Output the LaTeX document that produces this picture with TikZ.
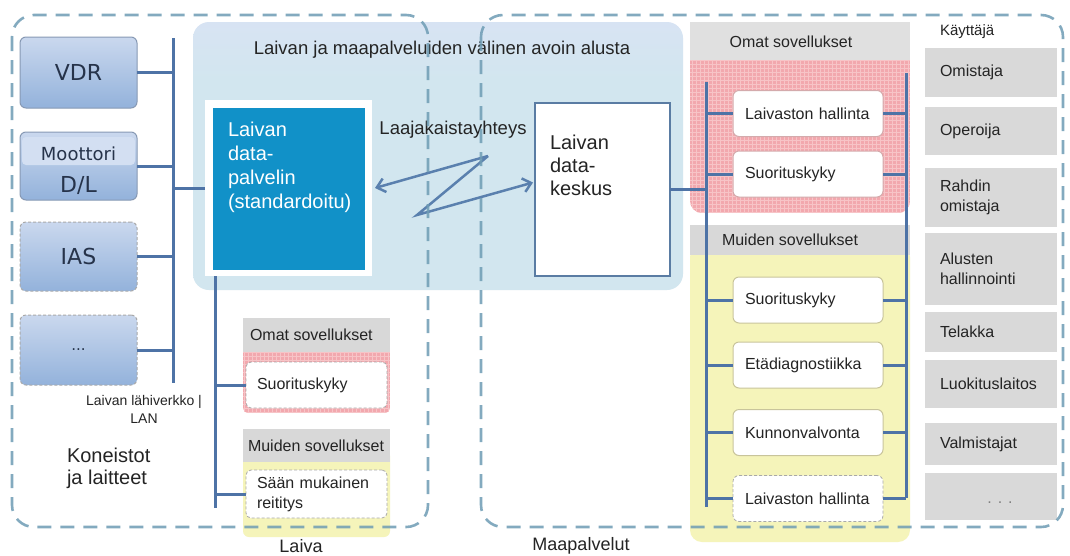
\documentclass[tikz,border=0pt]{standalone}
\usepackage{fontspec}
\setmainfont{Liberation Sans}
\newfontfamily\dvsans{DejaVu Sans}
\usetikzlibrary{arrows.meta}

\definecolor{dashc}{HTML}{6E9CB4}
\definecolor{platc}{HTML}{D2E6EF}
\definecolor{platt}{HTML}{DAE2F5}
\definecolor{srvc}{HTML}{1191C8}
\definecolor{busc}{HTML}{4E73A6}
\definecolor{zigc}{HTML}{5A80AE}
\definecolor{dcline}{HTML}{5A7CA3}
\definecolor{devtop}{HTML}{CAD8EE}
\definecolor{devbot}{HTML}{93B2DB}
\definecolor{devlite}{HTML}{D3DFF2}
\definecolor{devline}{HTML}{8799B4}
\definecolor{hdrc}{HTML}{D8D8D8}
\definecolor{usrc}{HTML}{D9D9D9}
\definecolor{pinkc}{HTML}{F2A8AE}
\definecolor{pinkg}{HTML}{F7C4C7}
\definecolor{yelc}{HTML}{F5F4BA}
\definecolor{txtc}{HTML}{242424}
\definecolor{devtxt}{HTML}{26334A}
\definecolor{appP}{HTML}{D4AAAC}
\definecolor{appY}{HTML}{C8C49B}
\definecolor{appD}{HTML}{A9A9A9}

\pgfdeclareverticalshading{platshade}{100bp}{color(0bp)=(platc); color(64bp)=(platc); color(80bp)=(platt); color(100bp)=(platt)}

\tikzset{
  every node/.style={inner sep=0pt, outer sep=0pt, text=txtc},
  zone/.style={draw=dashc, line width=2.6pt, dash pattern=on 14pt off 9pt,
    rounded corners=22pt, draw opacity=0.85},
  platbox/.style={rounded corners=16pt, shade, shading=platshade},
  dev/.style={draw=devline, line width=1pt, rounded corners=6pt,
    top color=devtop, bottom color=devbot, minimum width=117pt,
    text=devtxt, font=\dvsans\fontsize{22}{26}\selectfont},
  devdash/.style={dev, draw=appD, dash pattern=on 3pt off 2pt},
  bus/.style={draw=busc, line width=3pt},
  zig/.style={draw=zigc, line width=2.5pt, -{Straight Barb[length=8pt,width=14pt]}},
  hdr/.style={fill=hdrc},
  fapp/.style={font=\fontsize{16}{20}\selectfont},
  app/.style={fapp, fill=white, line width=1pt, rounded corners=6pt,
    minimum width=150pt, minimum height=46pt, text width=126pt,
    inner xsep=12pt, align=left},
  sapp/.style={fapp, fill=white, draw=appD, line width=0.8pt,
    dash pattern=on 3pt off 2pt, rounded corners=5pt,
    minimum width=141pt, text width=119pt, inner xsep=11pt, align=left},
  usr/.style={fapp, fill=usrc, minimum width=132pt, text width=102pt,
    inner xsep=15pt, align=left},
}

\begin{document}
\begin{tikzpicture}[x=1pt,y=-1pt]
\useasboundingbox[fill=white] (0,0) rectangle (1070,555);

% shared platform between ship and shore
\node[platbox, minimum width=490pt, minimum height=268pt, anchor=north west] (plat) at (193,22) {};
\node[font=\fontsize{18.5}{22}\selectfont] (ptitle) at (442,50) {Laivan ja maapalveluiden välinen avoin alusta};

% ship data server
\node[fill=white, minimum width=167pt, minimum height=176pt, anchor=north west] (dsf) at (205,100) {};
\node[fill=srvc, minimum width=152pt, minimum height=162pt, anchor=north west] (ds) at (213,108) {};
\node[anchor=north west, align=left, text=white, font=\fontsize{20}{24}\selectfont] (dstxt) at (228,122.5)
  {Laivan\\data-\\palvelin\\(standardoitu)};

% shore data centre
\node[draw=dcline, line width=2pt, fill=white, minimum width=135pt, minimum height=173pt, anchor=north west] (dc) at (535,103) {};
\node[anchor=north west, align=left, font=\fontsize{20}{23}\selectfont] (dctxt) at (550,135)
  {Laivan\\data-\\keskus};

% broadband link
\node[font=\fontsize{18.5}{22}\selectfont] (bb) at (453,130) {Laajakaistayhteys};
\coordinate (zigA) at (488,156);
\coordinate (zigB) at (417,215);
\draw[zig] (zigA) -- ([xshift=3pt]dsf.east);
\draw[zig] (zigA) -- (zigB) -- ([xshift=-2pt,yshift=7pt]dc.west);

% ship machinery and devices
\node[dev, minimum height=71pt] (vdr) at (78.5,72.5) {VDR};
\node[dev, minimum height=68pt] (mot) at (78.5,166) {};
\fill[devlite, rounded corners=4pt] ([xshift=2pt,yshift=-5pt]mot.north west) rectangle ([xshift=-2pt,yshift=1pt]mot.east);
\node[text=devtxt, font=\dvsans\fontsize{18}{22}\selectfont] (motA) at (78.5,154) {Moottori};
\node[text=devtxt, font=\dvsans\fontsize{22}{26}\selectfont] (motB) at (78.5,185) {D/L};
\node[devdash, minimum height=69pt] (ias) at (78.5,256.5) {IAS};
\node[devdash, minimum height=70pt, font=\dvsans\fontsize{15}{18}\selectfont] (dots) at (78.5,350) {...};

% ship LAN
\coordinate (lanT) at (173,38);
\coordinate (lanB) at (173,383);
\draw[bus] (lanT) -- (lanB);
\foreach \n in {vdr,mot,ias,dots} \draw[bus] (\n.east) -- (\n.east -| lanT);
\draw[bus] (dsf.west -| lanT) -- (dsf.west);

\node[align=center, font=\fontsize{14}{18}\selectfont] (lan) at (144,409) {Laivan lähiverkko |\\LAN};
\node[anchor=north west, align=left, font=\fontsize{20}{22}\selectfont] (kon) at (67,447.5) {Koneistot\\ja laitteet};

% ship applications
\begin{scope}
  \clip[rounded corners=5pt] (243,345) rectangle (390,413);
  \fill[pinkc] (243,345) rectangle (390,413);
  \draw[pinkg, line width=0.6pt, step=4pt] (243,345) grid (390,413);
\end{scope}
\node[hdr, minimum width=147pt, minimum height=34pt, anchor=north west] (sOmat) at (243,318) {};
\node[fapp, anchor=west] (sOmatT) at (250,335) {Omat sovellukset};
\node[sapp, minimum height=46pt] (sapp1) at (316.5,385) {Suorituskyky};

\fill[yelc, rounded corners=6pt] (243,450) rectangle (390,537);
\node[hdr, minimum width=147pt, minimum height=33pt, anchor=north west] (sMuid) at (243,429) {};
\node[fapp, anchor=west] (sMuidT) at (248,445.5) {Muiden sovellukset};
\node[sapp, minimum height=48pt] (sapp2) at (316.5,494) {Sään mukainen\\reititys};

\coordinate (shipB) at (215,508);
\draw[bus] (dsf.south -| shipB) -- (shipB);
\draw[bus] (sapp1.west -| shipB) -- (sapp1.west);
\draw[bus] (sapp2.west -| shipB) -- (sapp2.west);

% shore applications
\begin{scope}
  \clip[rounded corners=12pt] (690,50) rectangle (910,213);
  \fill[pinkc] (690,50) rectangle (910,213);
  \draw[pinkg, line width=0.6pt, step=4pt] (690,50) grid (910,213);
\end{scope}
\node[hdr, fill=hdrc!80!white, minimum width=220pt, minimum height=38pt, anchor=north west] (gOmat) at (690,22) {};
\node[fapp] (gOmatT) at (791,42) {Omat sovellukset};

\fill[yelc, rounded corners=12pt] (690,245) rectangle (910,542);
\node[hdr, minimum width=220pt, minimum height=30pt, anchor=north west] (gMuid) at (690,225) {};
\node[fapp, anchor=west] (gMuidT) at (722,240) {Muiden sovellukset};

\node[app, draw=appP] (lh1) at (808,113.5) {Laivaston hallinta};
\node[app, draw=appP] (sk1) at (808,174) {Suorituskyky};
\node[app, draw=appY] (sk2) at (808,300) {Suorituskyky};
\node[app, draw=appY] (ed) at (808,365) {Etädiagnostiikka};
\node[app, draw=appY] (kv) at (808,432.5) {Kunnonvalvonta};
\node[app, draw=appD, dash pattern=on 3pt off 2pt, line width=0.8pt] (lh2) at (808,498.5) {Laivaston hallinta};

\coordinate (gL) at (706,82);
\coordinate (gLb) at (706,507);
\coordinate (gR) at (906,73);
\coordinate (gRb) at (906,498);
\draw[bus] (gL) -- (gLb);
\draw[bus] (gR) -- (gRb);
\draw[bus] (dc.east) -- (dc.east -| gL);
\foreach \n in {lh1,sk1,sk2,ed,kv,lh2} {
  \draw[bus] (\n.west -| gL) -- (\n.west);
  \draw[bus] (\n.east) -- (\n.east -| gR);
}

% users
\node[fapp, font=\fontsize{15}{18}\selectfont, anchor=west] (kay) at (940,32) {Käyttäjä};
\node[usr, minimum height=49pt] (u1) at (991,72.5) {Omistaja};
\node[usr, minimum height=48pt] (u2) at (991,131) {Operoija};
\node[usr, minimum height=59pt] (u3) at (991,197.5) {Rahdin\\omistaja};
\node[usr, minimum height=72pt] (u4) at (991,269) {Alusten\\hallinnointi};
\node[usr, minimum height=40pt] (u5) at (991,332) {Telakka};
\node[usr, minimum height=48pt] (u6) at (991,384) {Luokituslaitos};
\node[usr, minimum height=42pt] (u7) at (991,444) {Valmistajat};
\node[usr, minimum height=47pt] (u8) at (991,496.5) {};
\node[fapp, text=gray] (u8t) at (1000,503) {. . .};

% ship and shore zones
\draw[zone] (12,15) rectangle (428,527);
\draw[zone] (481,15) rectangle (1063,527);
\node[font=\fontsize{18}{22}\selectfont] (laiva) at (301,546) {Laiva};
\node[font=\fontsize{18}{22}\selectfont] (maa) at (581,546) {Maapalvelut};
\end{tikzpicture}
\end{document}
